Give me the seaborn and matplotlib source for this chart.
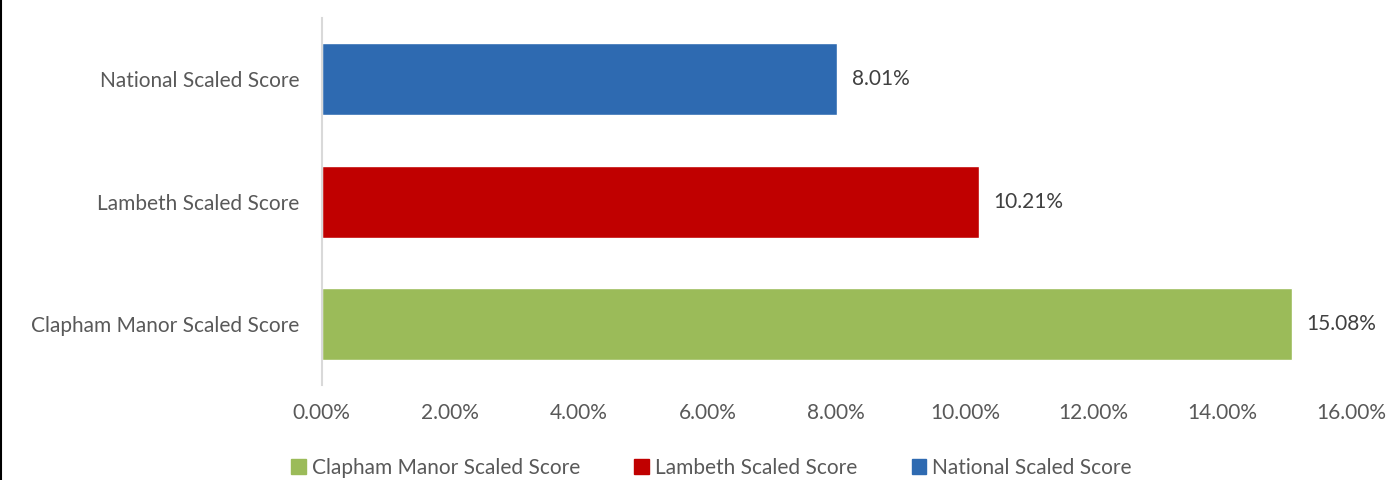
import pandas as pd
import seaborn as sns
from matplotlib import pyplot as plt
from matplotlib.lines import Line2D
from matplotlib.patches import Patch
from matplotlib.ticker import FuncFormatter

# chart data
categories = ['National Scaled Score', 'Lambeth Scaled Score', 'Clapham Manor Scaled Score']
values = [8.01, 10.21, 15.08]
colours = ['#2E6AB1', '#C00000', '#9BBB59']
x_ticks = [0, 2, 4, 6, 8, 10, 12, 14, 16]

df = pd.DataFrame({'category': categories, 'value': values})

sns.set_style('white')
plt.rcParams['font.family'] = ['Lato', 'DejaVu Sans']

fig = plt.figure(figsize=(13.87, 4.8), dpi=100)
ax = fig.add_axes([0.232, 0.198, 0.742, 0.764])

sns.barplot(data=df, y='category', x='value', hue='category',
            palette=colours, order=categories, width=0.59,
            legend=False, ax=ax, saturation=1)

# value labels
for i, v in enumerate(values):
    ax.text(v + 0.23, i, f'{v:.2f}%', va='center', ha='left',
            fontsize=15, color='#404040')

ax.set_xlim(0, 16)
ax.set_xticks(x_ticks)
ax.xaxis.set_major_formatter(FuncFormatter(lambda x, p: f'{x:.2f}%'))
ax.set_xlabel('')
ax.set_ylabel('')
ax.tick_params(axis='both', length=0, labelsize=15, colors='#595959')
ax.tick_params(axis='y', pad=16)
ax.tick_params(axis='x', pad=13)

for side in ['top', 'right', 'bottom']:
    ax.spines[side].set_visible(False)
ax.spines['left'].set_color('#D9D9D9')
ax.spines['left'].set_linewidth(1.5)

# legend in reverse order along the bottom
handles = [Patch(color=colours[i], label=categories[i]) for i in [2, 1, 0]]
fig.legend(handles=handles, loc='lower center', ncol=3, frameon=False,
           bbox_to_anchor=(0.513, -0.035), fontsize=15, handlelength=0.7,
           handleheight=0.7, handletextpad=0.3, columnspacing=2.6,
           labelcolor='#595959')

# left border line of the picture
fig.add_artist(Line2D([0.001, 0.001], [0, 1], color='black', linewidth=1.5))

fig.savefig('out.png', dpi=100)
